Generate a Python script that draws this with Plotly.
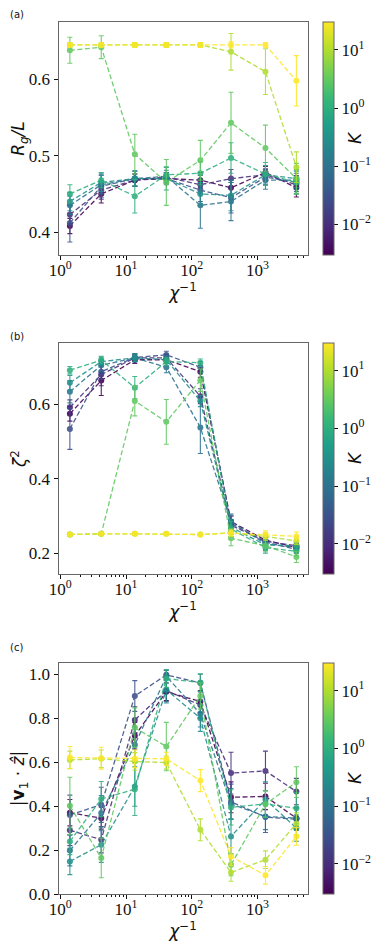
import numpy as np
import plotly.graph_objects as go
from plotly.colors import sample_colorscale

CHI_INV = [1.4, 4.2, 13.6, 41, 135, 395, 1320, 3900]
K_VALUES = [0.003, 0.01, 0.03, 0.1, 0.3, 1, 3, 10, 30]

# panel (a): Rg/L
RG = [
    [0.408, 0.450, 0.468, 0.470, 0.468, 0.458, 0.478, 0.458],
    [0.423, 0.455, 0.468, 0.472, 0.462, 0.470, 0.475, 0.462],
    [0.412, 0.460, 0.470, 0.470, 0.455, 0.445, 0.472, 0.465],
    [0.435, 0.462, 0.470, 0.473, 0.435, 0.440, 0.468, 0.468],
    [0.440, 0.465, 0.470, 0.470, 0.450, 0.448, 0.475, 0.470],
    [0.450, 0.468, 0.447, 0.475, 0.477, 0.497, 0.476, 0.465],
    [0.638, 0.642, 0.502, 0.465, 0.494, 0.543, 0.510, 0.470],
    [0.645, 0.645, 0.645, 0.645, 0.645, 0.636, 0.610, 0.485],
    [0.645, 0.645, 0.645, 0.645, 0.645, 0.645, 0.645, 0.598],
]
RG_ERR = [
    [0.010, 0.012, 0.008, 0.006, 0.010, 0.010, 0.008, 0.012],
    [0.012, 0.012, 0.008, 0.006, 0.012, 0.012, 0.008, 0.012],
    [0.025, 0.015, 0.010, 0.008, 0.015, 0.020, 0.010, 0.012],
    [0.012, 0.012, 0.010, 0.008, 0.030, 0.025, 0.012, 0.012],
    [0.012, 0.012, 0.010, 0.015, 0.015, 0.020, 0.012, 0.012],
    [0.012, 0.010, 0.022, 0.010, 0.015, 0.020, 0.015, 0.015],
    [0.017, 0.015, 0.026, 0.030, 0.026, 0.040, 0.030, 0.020],
    [0.003, 0.003, 0.003, 0.003, 0.003, 0.024, 0.030, 0.020],
    [0.003, 0.003, 0.003, 0.003, 0.003, 0.004, 0.003, 0.033],
]

# panel (b): zeta^2
ZETA = [
    [0.575, 0.664, 0.720, 0.720, 0.688, 0.285, 0.235, 0.215],
    [0.592, 0.680, 0.725, 0.725, 0.622, 0.275, 0.232, 0.220],
    [0.534, 0.688, 0.726, 0.733, 0.700, 0.280, 0.230, 0.210],
    [0.634, 0.705, 0.725, 0.700, 0.538, 0.285, 0.225, 0.215],
    [0.658, 0.715, 0.725, 0.720, 0.609, 0.270, 0.222, 0.220],
    [0.692, 0.719, 0.645, 0.715, 0.712, 0.265, 0.215, 0.205],
    [0.250, 0.252, 0.609, 0.553, 0.665, 0.240, 0.220, 0.190],
    [0.250, 0.252, 0.252, 0.252, 0.250, 0.255, 0.245, 0.233],
    [0.250, 0.252, 0.252, 0.252, 0.250, 0.254, 0.250, 0.245],
]
ZETA_ERR = [
    [0.020, 0.040, 0.010, 0.010, 0.015, 0.015, 0.012, 0.010],
    [0.020, 0.030, 0.010, 0.010, 0.020, 0.015, 0.012, 0.010],
    [0.055, 0.020, 0.010, 0.010, 0.015, 0.020, 0.012, 0.010],
    [0.030, 0.015, 0.010, 0.015, 0.070, 0.020, 0.015, 0.010],
    [0.020, 0.010, 0.010, 0.010, 0.015, 0.020, 0.015, 0.012],
    [0.010, 0.010, 0.030, 0.010, 0.010, 0.020, 0.015, 0.012],
    [0.004, 0.004, 0.040, 0.060, 0.030, 0.020, 0.015, 0.015],
    [0.003, 0.003, 0.003, 0.003, 0.003, 0.010, 0.010, 0.010],
    [0.003, 0.003, 0.003, 0.003, 0.003, 0.008, 0.010, 0.012],
]

# panel (c): |v1 . z|
VZ = [
    [0.370, 0.345, 0.720, 0.920, 0.876, 0.440, 0.444, 0.345],
    [0.290, 0.247, 0.792, 0.925, 0.860, 0.550, 0.560, 0.466],
    [0.360, 0.406, 0.901, 0.997, 0.960, 0.420, 0.350, 0.340],
    [0.198, 0.368, 0.679, 0.990, 0.820, 0.410, 0.353, 0.345],
    [0.148, 0.224, 0.489, 0.929, 0.800, 0.262, 0.430, 0.300],
    [0.239, 0.432, 0.477, 0.980, 0.962, 0.394, 0.410, 0.390],
    [0.401, 0.164, 0.757, 0.671, 0.901, 0.133, 0.409, 0.509],
    [0.610, 0.615, 0.603, 0.598, 0.292, 0.098, 0.156, 0.320],
    [0.621, 0.618, 0.615, 0.615, 0.516, 0.171, 0.085, 0.262],
]
VZ_ERR = [
    [0.060, 0.050, 0.060, 0.040, 0.050, 0.070, 0.060, 0.050],
    [0.070, 0.060, 0.060, 0.050, 0.060, 0.095, 0.090, 0.060],
    [0.090, 0.080, 0.070, 0.020, 0.040, 0.080, 0.070, 0.050],
    [0.070, 0.080, 0.080, 0.030, 0.060, 0.070, 0.060, 0.050],
    [0.060, 0.080, 0.090, 0.060, 0.060, 0.080, 0.080, 0.060],
    [0.060, 0.080, 0.120, 0.040, 0.040, 0.080, 0.060, 0.070],
    [0.130, 0.090, 0.090, 0.110, 0.060, 0.050, 0.060, 0.070],
    [0.040, 0.040, 0.040, 0.030, 0.050, 0.040, 0.040, 0.050],
    [0.050, 0.050, 0.040, 0.030, 0.050, 0.040, 0.040, 0.040],
]

Y_TITLES = [
    "<i>R</i><sub><i>g</i></sub><i>/L</i>",
    "<i>ζ</i><sup>2</sup>",
    "|<b>v</b><sub>1</sub> · <i>ẑ</i>|",
]
PANEL_LABELS = ["(a)", "(b)", "(c)"]

# page is 392x941; the html body adds an 8px margin, so the figure is
# offset by 8px and positions below are given in page pixels
W, H = 392, 941
OFF = 8
FW, FH = W - OFF, H - OFF
TEXT = "#111111"
SPINE = "#666666"
TICK_FONT = dict(family="Liberation Serif, DejaVu Serif, serif", size=17, color=TEXT)
TITLE_FONT = dict(family="DejaVu Sans, sans-serif", size=17, color=TEXT)

cmin = np.log10(K_VALUES[0])
cmax = np.log10(K_VALUES[-1])
fracs = [(np.log10(k) - cmin) / (cmax - cmin) for k in K_VALUES]
colors = sample_colorscale("Viridis", fracs)


def px_x(p):
    return (p - OFF) / FW


def px_y(p):
    return 1 - (p - OFF) / FH


# pixel boxes of each panel (top, bottom)
boxes = [(22, 255), (343, 574), (663, 894)]
label_y = [14, 336, 647]
y_ranges = [[0.37, 0.675], [0.144, 0.765], [0.0, 1.051]]
y_ticks = [[0.4, 0.5, 0.6], [0.2, 0.4, 0.6], [0.0, 0.2, 0.4, 0.6, 0.8, 1.0]]
datasets = [(RG, RG_ERR), (ZETA, ZETA_ERR), (VZ, VZ_ERR)]

fig = go.Figure()
layout = {}

for p in range(3):
    ax = "" if p == 0 else str(p + 1)
    xa, ya = "x" + ax, "y" + ax
    vals, errs = datasets[p]

    for i, k in enumerate(K_VALUES):
        c = colors[i]
        fig.add_trace(go.Scatter(
            x=CHI_INV,
            y=vals[i],
            xaxis=xa,
            yaxis=ya,
            mode="lines+markers",
            line=dict(color=c, width=1.3, dash="5px,2.5px"),
            marker=dict(color=c, size=6),
            error_y=dict(type="data", array=errs[i], color=c,
                         thickness=1.1, width=2.5),
            opacity=0.88,
            showlegend=False,
            hoverinfo="x+y",
        ))

    top, bot = boxes[p]
    # colorbar host
    fig.add_trace(go.Scatter(
        x=[None],
        y=[None],
        xaxis=xa,
        yaxis=ya,
        mode="markers",
        marker=dict(
            color=[cmin, cmax],
            colorscale="Viridis",
            cmin=cmin,
            cmax=cmax,
            showscale=True,
            colorbar=dict(
                x=px_x(323),
                xanchor="left",
                xpad=0,
                ypad=0,
                y=px_y((top + bot) / 2),
                yanchor="middle",
                len=(bot - top) / FH,
                thickness=11,
                outlinewidth=1,
                outlinecolor=SPINE,
                tickvals=[-2, -1, 0, 1],
                ticktext=["10<sup>−2</sup>", "10<sup>−1</sup>",
                          "10<sup>0</sup>", "10<sup>1</sup>"],
                ticks="outside",
                ticklen=4,
                tickcolor=TEXT,
                tickfont=TICK_FONT,
                title=dict(text="<i>K</i>", side="right", font=TITLE_FONT),
            ),
        ),
        showlegend=False,
        hoverinfo="skip",
    ))

    layout["xaxis" + ax] = dict(
        domain=[px_x(58.5), px_x(307.5)],
        anchor=ya,
        type="log",
        range=[-0.027, 3.76],
        tickvals=[1, 10, 100, 1000],
        ticktext=["10<sup>0</sup>", "10<sup>1</sup>",
                  "10<sup>2</sup>", "10<sup>3</sup>"],
        ticks="outside",
        ticklen=4,
        tickcolor=TEXT,
        ticklabelstandoff=-4,
        minor=dict(ticks="outside", ticklen=2, tickcolor=TEXT, dtick="D1"),
        showgrid=False,
        zeroline=False,
        showline=True,
        mirror=True,
        linecolor=SPINE,
        linewidth=1,
        tickfont=TICK_FONT,
        title=dict(text="<i>χ</i><sup>−1</sup>", font=TITLE_FONT, standoff=2),
    )
    layout["yaxis" + ax] = dict(
        domain=[px_y(bot), px_y(top)],
        anchor=xa,
        range=y_ranges[p],
        tickvals=y_ticks[p],
        tickformat=".1f",
        ticks="outside",
        ticklen=4,
        tickcolor=TEXT,
        showgrid=False,
        zeroline=False,
        showline=True,
        mirror=True,
        linecolor=SPINE,
        linewidth=1,
        tickfont=TICK_FONT,
        title=dict(text=Y_TITLES[p], font=TITLE_FONT, standoff=8),
    )

annotations = []
for p, lab in enumerate(PANEL_LABELS):
    annotations.append(dict(
        text=lab,
        x=px_x(OFF),
        y=px_y(label_y[p]),
        xref="paper",
        yref="paper",
        xanchor="left",
        yanchor="middle",
        showarrow=False,
        font=dict(family="DejaVu Sans, sans-serif", size=10, color=TEXT),
    ))

fig.update_layout(
    width=FW,
    height=FH,
    margin=dict(l=0, r=0, t=0, b=0, autoexpand=False),
    paper_bgcolor="white",
    plot_bgcolor="white",
    annotations=annotations,
    **layout,
)

fig.write_html("out.html")
